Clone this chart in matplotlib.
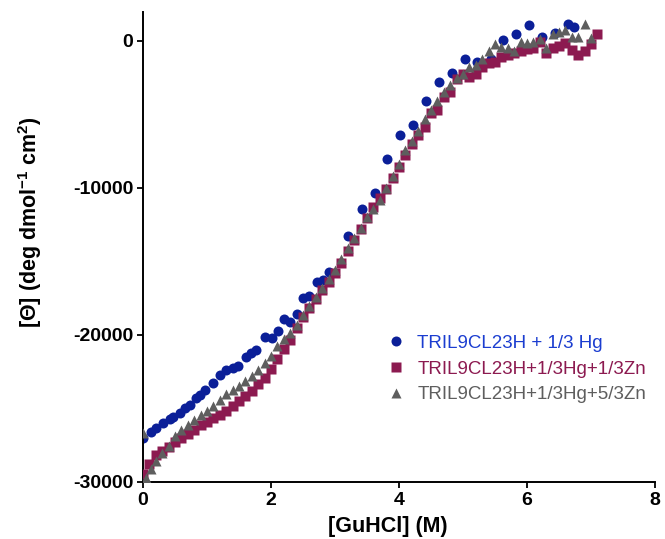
import numpy as np
import matplotlib
matplotlib.use('Agg')
import matplotlib.pyplot as plt

plt.rcParams['font.family'] = ['Liberation Sans', 'DejaVu Sans']
plt.rcParams['axes.unicode_minus'] = False
plt.rcParams['mathtext.fontset'] = 'custom'
plt.rcParams['mathtext.rm'] = 'Liberation Sans:bold'
plt.rcParams['mathtext.bf'] = 'Liberation Sans:bold'
plt.rcParams['mathtext.it'] = 'Liberation Sans:bold'
plt.rcParams['mathtext.default'] = 'regular'

# series 1: TRIL9CL23H + 1/3 Hg (circles)
hg_x = [0.00, 0.13, 0.20, 0.31, 0.42, 0.47, 0.58, 0.66, 0.73, 0.83,
        0.89, 0.97, 1.09, 1.20, 1.30, 1.41, 1.48, 1.61, 1.69, 1.77,
        1.91, 2.02, 2.11, 2.20, 2.30, 2.41, 2.50, 2.59, 2.72, 2.81,
        2.91, 3.20, 3.42, 3.63, 3.81, 4.02, 4.22, 4.42, 4.63, 4.83,
        5.03, 5.22, 5.44, 5.63, 5.83, 6.03, 6.23, 6.44, 6.64, 6.73]
hg_y = [-27010, -26600, -26330, -25990, -25710, -25580, -25310, -24970, -24760, -24290,
        -24080, -23740, -23270, -22720, -22380, -22240, -22110, -21500, -21220, -21020,
        -20140, -20200, -19730, -18910, -19120, -18570, -17480, -17350, -16390, -16260,
        -15710, -13270, -11430, -10340, -8030, -6390, -5710, -4080, -2790, -2180,
        -1220, -1430, -1220, 70, 480, 1090, 270, 540, 1160, 950]

# series 2: TRIL9CL23H+1/3Hg+1/3Zn (squares)
zn1_x = [0.0, 0.1, 0.2, 0.3, 0.4, 0.5, 0.6, 0.7, 0.8, 0.9,
         1.0, 1.1, 1.2, 1.3, 1.4, 1.5, 1.6, 1.7, 1.8, 1.9,
         2.0, 2.1, 2.2, 2.3, 2.4, 2.5, 2.6, 2.7, 2.8, 2.9,
         3.0, 3.1, 3.2, 3.3, 3.4, 3.5, 3.6, 3.7, 3.8, 3.9,
         4.0, 4.1, 4.2, 4.3, 4.4, 4.5, 4.6, 4.7, 4.8, 4.9,
         5.0, 5.1, 5.2, 5.3, 5.4, 5.5, 5.6, 5.7, 5.8, 5.9,
         6.0, 6.1, 6.2, 6.3, 6.4, 6.5, 6.6, 6.7, 6.8, 6.9,
         7.0, 7.1]
zn1_y = [-29460, -28750, -28180, -27900, -27600, -27250, -27000, -26750, -26450, -26150,
         -25900, -25650, -25450, -25150, -24850, -24500, -24150, -23800, -23350, -22900,
         -22300, -21650, -20950, -20350, -19550, -18800, -18150, -17550, -16950, -16400,
         -15800, -15100, -14300, -13550, -12800, -12050, -11300, -10700, -10050, -9300,
         -8600, -7750, -7000, -6400, -5850, -4900, -4700, -3800, -3500, -2600,
         -2250, -2450, -2250, -1800, -1500, -1450, -1100, -950, -850, -700,
         -550, -450, -100, -800, -500, -350, -150, -600, -950, -700,
         -200, 450]

# series 3: TRIL9CL23H+1/3Hg+5/3Zn (triangles)
zn5_x = [0.00, 0.05, 0.13, 0.21, 0.30, 0.40, 0.50, 0.60, 0.70, 0.80,
         0.90, 1.00, 1.10, 1.20, 1.30, 1.40, 1.50, 1.60, 1.70, 1.80,
         1.90, 2.00, 2.10, 2.20, 2.30, 2.40, 2.50, 2.60, 2.70, 2.80,
         2.90, 3.00, 3.10, 3.20, 3.30, 3.40, 3.50, 3.60, 3.70, 3.80,
         3.90, 4.00, 4.10, 4.20, 4.30, 4.40, 4.50, 4.60, 4.70, 4.80,
         4.90, 5.00, 5.10, 5.20, 5.30, 5.40, 5.50, 5.60, 5.70, 5.80,
         5.90, 6.00, 6.10, 6.20, 6.30, 6.40, 6.50, 6.60, 6.70, 6.80,
         6.90, 7.00]
zn5_y = [-26650, -29700, -29100, -28550, -28030, -27550, -26900, -26450, -26100, -25800,
         -25450, -25150, -24800, -24400, -24050, -23750, -23450, -23150, -22800, -22380,
         -21900, -21450, -20750, -20280, -19900, -19300, -18650, -18000, -17450, -16800,
         -16200, -15550, -14850, -14100, -13400, -12700, -12000, -11400, -10800, -10000,
         -9200, -8400, -7400, -6800, -6100, -5300, -4700, -4100, -3500, -3000,
         -2550, -2250, -1750, -1650, -1250, -700, -200, -400, -480, -700,
         -100, -150, -80, 150, -450, 500, 600, 750, 300, 280,
         1150, 200]

labels = ['TRIL9CL23H + 1/3 Hg', 'TRIL9CL23H+1/3Hg+1/3Zn', 'TRIL9CL23H+1/3Hg+5/3Zn']
marker_colors = ['#0B1F98', '#8C1A50', '#5E5E5E']
text_colors = ['#1B3DD0', '#8C1A50', '#5E5E5E']

fig = plt.figure(figsize=(6.65, 5.39), dpi=100)
ax = fig.add_axes([0.215, 0.1058, 0.770, 0.872])

ax.plot(hg_x, hg_y, 'o', ms=7.2, color=marker_colors[0], mec='none', label=labels[0], zorder=2)
ax.plot(zn1_x, zn1_y, 's', ms=6.6, color=marker_colors[1], mec='none', label=labels[1], zorder=3)
ax.plot(zn5_x, zn5_y, '^', ms=7.4, color=marker_colors[2], mec='none', label=labels[2], zorder=4)

ax.set_xlim(0, 8)
ax.set_ylim(-30000, 1970)
ax.set_xticks([0, 2, 4, 6, 8])
ax.set_yticks([0, -10000, -20000, -30000])
ax.spines['top'].set_visible(False)
ax.spines['right'].set_visible(False)
for s in ['left', 'bottom']:
    ax.spines[s].set_linewidth(1.4)
ax.tick_params(direction='out', length=4, width=1.3, labelsize=14, pad=3)
for t in ax.get_xticklabels() + ax.get_yticklabels():
    t.set_fontweight('bold')

ax.set_xlabel('[GuHCl] (M)', fontsize=15.5, fontweight='bold', labelpad=5)
ax.xaxis.label.set_x(0.479)
ax.set_ylabel('[Θ] (deg dmol$^{-1}$ cm$^{2}$)', fontsize=15.5, fontweight='bold', labelpad=21)
ax.yaxis.label.set_y(0.553)

leg = ax.legend(loc='upper left', bbox_to_anchor=(0.45, 0.345), frameon=False,
                numpoints=1, handlelength=0.8, handletextpad=0.75,
                labelspacing=0.45, fontsize=13.5, borderpad=0.3)
for txt, c in zip(leg.get_texts(), text_colors):
    txt.set_color(c)

fig.savefig('out.png', dpi=100)
